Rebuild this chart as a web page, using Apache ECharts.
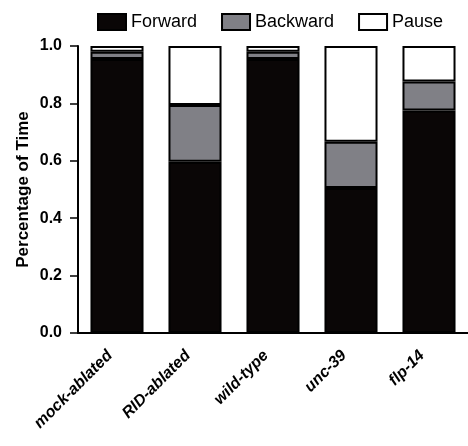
<!DOCTYPE html>
<html><head><meta charset="utf-8">
<script src="https://cdn.jsdelivr.net/npm/echarts@6/dist/echarts.min.js"></script>
<style>html,body{margin:0;padding:0;background:#fff}#c{width:468px;height:446px}</style>
</head><body><div id="c"></div>
<script>
var categories = ['mock-ablated', 'RID-ablated', 'wild-type', 'unc-39', 'flp-14'];
var forward = [0.955, 0.597, 0.955, 0.505, 0.775];
var backward = [0.025, 0.197, 0.025, 0.161, 0.101];
var pause = [0.020, 0.206, 0.020, 0.334, 0.124];
var yTicks = [0, 0.2, 0.4, 0.6, 0.8, 1.0];

var chart = echarts.init(document.getElementById('c'));
var border = {borderColor: '#000', borderWidth: 2};
chart.setOption({
  animation: false,
  legend: {
    top: 8, left: 92, itemWidth: 28, itemHeight: 16, itemGap: 24, icon: 'rect',
    textStyle: {fontFamily: 'Liberation Sans, Arial', fontSize: 18, color: '#000'},
    data: ['Forward', 'Backward', 'Pause']
  },
  grid: {left: 78, top: 46, width: 395, bottom: 113},
  xAxis: {
    type: 'category', data: categories,
    axisLine: {lineStyle: {color: '#000', width: 2}},
    axisTick: {alignWithLabel: true, length: 5, lineStyle: {color: '#000', width: 1.5}},
    axisLabel: {rotate: 45, margin: 13, padding: [0, 10, 0, 0], fontFamily: 'Liberation Sans, Arial', fontSize: 16, fontWeight: 'bold', fontStyle: 'italic', color: '#000'}
  },
  yAxis: {
    type: 'value', min: 0, max: 1, interval: 0.2,
    name: 'Percentage of Time', nameLocation: 'middle', nameGap: 46, nameMoveOverlap: false,
    nameTextStyle: {fontFamily: 'Liberation Sans, Arial', fontSize: 17, fontWeight: 'bold', color: '#000'},
    axisLine: {show: true, lineStyle: {color: '#000', width: 2}},
    axisTick: {show: true, length: 8, lineStyle: {color: '#000', width: 1.5}},
    splitLine: {show: false},
    axisLabel: {margin: 16, fontFamily: 'Liberation Sans, Arial', fontSize: 16, fontWeight: 'bold', color: '#000',
      formatter: function (v) { return v.toFixed(1); }}
  },
  series: [
    {name: 'Forward', type: 'bar', stack: 'a', data: forward, barCategoryGap: '32%', itemStyle: Object.assign({color: '#0a0606'}, border)},
    {name: 'Backward', type: 'bar', stack: 'a', data: backward, itemStyle: Object.assign({color: '#808086'}, border)},
    {name: 'Pause', type: 'bar', stack: 'a', data: pause, itemStyle: Object.assign({color: '#ffffff'}, border)}
  ]
});
</script></body></html>
